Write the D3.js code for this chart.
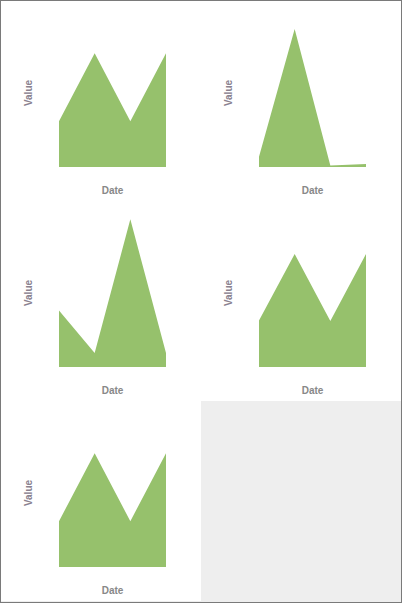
<!DOCTYPE html>
<html>
<head>
<meta charset="utf-8">
<script src="https://cdn.jsdelivr.net/npm/d3@7"></script>
<style>
  body { margin: 0; }
  #grid {
    width: 400px; height: 601px;
    border: 1px solid #7a7a7a;
    background: #eeeeee;
    display: flex; flex-wrap: wrap; align-content: flex-start;
  }
  svg { display: block; background: #fff; }
  .lbl { font-family: "Liberation Sans", Arial, sans-serif; font-size: 10px; font-weight: bold; }
</style>
</head>
<body>
<div id="grid"></div>
<script>
var dates = ["2013-01-01", "2013-02-01", "2013-03-01", "2013-04-01"];

var seriesA = [31, 77, 31, 77];
var seriesB = [7, 93.5, 1, 2];
var seriesC = [38.3, 9.5, 100, 9.5];
var seriesD = [31.5, 76.5, 31.2, 76.5];
var seriesE = [31, 77, 31, 77];

var allSeries = [seriesA, seriesB, seriesC, seriesD, seriesE];

var size = 200;
var margin = {top: 18, right: 35, bottom: 34, left: 58};

var xScale = d3.scalePoint()
  .domain(dates)
  .range([margin.left, size - margin.right]);

var yScale = d3.scaleLinear()
  .domain([0, 100])
  .range([size - margin.bottom, margin.top + 0.3]);

var area = d3.area()
  .x(function(d) { return xScale(d.date); })
  .y0(yScale(0))
  .y1(function(d) { return yScale(d.value); });

function drawChart(values) {
  var data = dates.map(function(d, i) { return {date: d, value: values[i]}; });

  var svg = d3.select("#grid").append("svg")
    .attr("width", size).attr("height", size);

  svg.append("path")
    .datum(data)
    .attr("d", area)
    .attr("fill", "#96c16c");

  svg.append("text")
    .attr("class", "lbl")
    .attr("transform", "translate(30.5," + ((margin.top + size - margin.bottom) / 2) + ") rotate(-90)")
    .attr("text-anchor", "middle")
    .attr("fill", "#8a8290")
    .text("Value");

  svg.append("text")
    .attr("class", "lbl")
    .attr("x", (margin.left + size - margin.right) / 2)
    .attr("y", 193)
    .attr("text-anchor", "middle")
    .attr("fill", "#888")
    .text("Date");
}

allSeries.forEach(drawChart);
</script>
</body>
</html>
